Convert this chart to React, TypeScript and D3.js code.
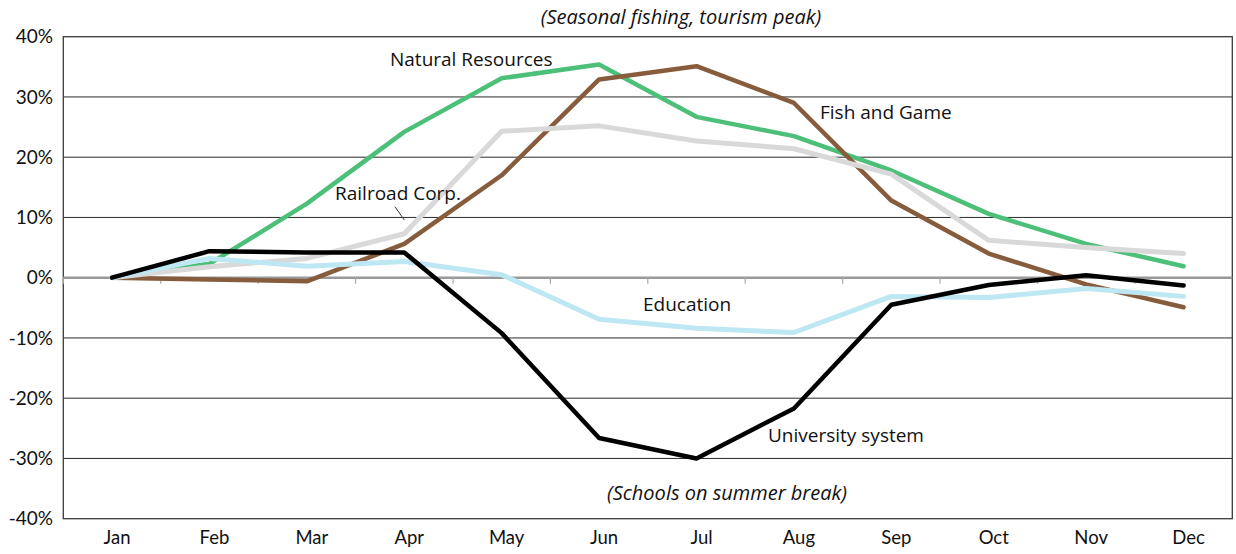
import React from "react";
import * as d3 from "d3";

const months = ["Jan", "Feb", "Mar", "Apr", "May", "Jun", "Jul", "Aug", "Sep", "Oct", "Nov", "Dec"];
const naturalResources = [0, 2.3, 12.3, 24.2, 33.1, 35.4, 26.7, 23.5, 17.8, 10.6, 5.6, 1.9];
const fishAndGame = [0, -0.3, -0.6, 5.6, 17.0, 32.9, 35.1, 29.0, 12.8, 4.0, -1.1, -4.9];
const railroadCorp = [0, 1.8, 3.2, 7.3, 24.3, 25.2, 22.7, 21.4, 17.2, 6.2, 5.0, 4.0];
const education = [0, 3.2, 1.9, 2.7, 0.5, -6.9, -8.4, -9.1, -3.1, -3.3, -1.8, -3.1];
const universitySystem = [0, 4.4, 4.2, 4.2, -9.2, -26.6, -30.0, -21.7, -4.5, -1.2, 0.4, -1.3];
const yTicks = [40, 30, 20, 10, 0, -10, -20, -30, -40];

const seriesList = [
  { name: "Natural Resources", values: naturalResources, color: "#4cbf79", width: 4.5 },
  { name: "Fish and Game", values: fishAndGame, color: "#875c3c", width: 4.5 },
  { name: "Railroad Corp.", values: railroadCorp, color: "#d9d9d9", width: 5 },
  { name: "Education", values: education, color: "#bde7f3", width: 5 },
  { name: "University system", values: universitySystem, color: "#000000", width: 4.5 },
];

const left = 63.3, right = 1232.3, top = 36.7, bottom = 518.7;
const FONT = "Lato, 'Open Sans', sans-serif";
const LFONT = "'Open Sans', Lato, sans-serif";

export default function App() {
  const x = d3.scaleBand<string>().domain(months).range([left, right]).padding(0);
  const y = d3.scaleLinear().domain([-40, 40]).range([bottom, top]);
  const cx = (m: string) => (x(m) as number) + x.bandwidth() / 2;
  const line = d3
    .line<number>()
    .x((_, i) => cx(months[i]))
    .y((v) => y(v));

  return (
    <svg width={1236} height={554} style={{ position: "absolute", left: 0, top: 0, background: "#fff" }}>
      <rect x={0} y={0} width={1236} height={554} fill="#fff" />
      {yTicks.filter((t) => t !== 0 && t !== 40 && t !== -40).map((t) => (
        <line key={t} x1={left} x2={right} y1={y(t)} y2={y(t)} stroke="#2a2a2a" strokeWidth={1} />
      ))}
      <rect x={left} y={top} width={right - left} height={bottom - top} fill="none" stroke="#3a3a3a" strokeWidth={1.3} />
      <line x1={left} x2={right} y1={y(0)} y2={y(0)} stroke="#999" strokeWidth={2.5} />
      {months.map((m, i) => (
        <line key={"t" + i} x1={(x(m) as number)} x2={(x(m) as number)} y1={y(0)} y2={y(0) + 6} stroke="#aaa" strokeWidth={1.2} />
      ))}
      {yTicks.map((t) => (
        <text key={"yl" + t} x={53} y={y(t)} dy="0.35em" textAnchor="end" fontFamily={FONT} fontSize={19} fill="#111">
          {t + "%"}
        </text>
      ))}
      {months.map((m) => (
        <text key={"xl" + m} x={cx(m) + 5} y={538} dy="0.35em" textAnchor="middle" fontFamily={FONT} fontSize={18.5} fill="#111">
          {m}
        </text>
      ))}
      {seriesList.map((s) => (
        <path key={s.name} d={line(s.values) as string} fill="none" stroke={s.color} strokeWidth={s.width} strokeLinejoin="round" strokeLinecap="round" />
      ))}
      <line x1={395} y1={206.7} x2={404.3} y2={220} stroke="#333" strokeWidth={1} />
      <g fontFamily={LFONT} fontSize={19} fill="#111">
        <text x={390} y={59} dy="0.35em">Natural Resources</text>
        <text x={820} y={112} dy="0.35em">Fish and Game</text>
        <text x={335} y={193} dy="0.35em">Railroad Corp.</text>
        <text x={643} y={304} dy="0.35em">Education</text>
        <text x={768} y={435} dy="0.35em">University system</text>
        <text x={681} y={17} dy="0.35em" textAnchor="middle" fontStyle="italic" fontSize={20}>(Seasonal fishing, tourism peak)</text>
        <text x={727} y={493} dy="0.35em" textAnchor="middle" fontStyle="italic" fontSize={20}>(Schools on summer break)</text>
      </g>
    </svg>
  );
}
